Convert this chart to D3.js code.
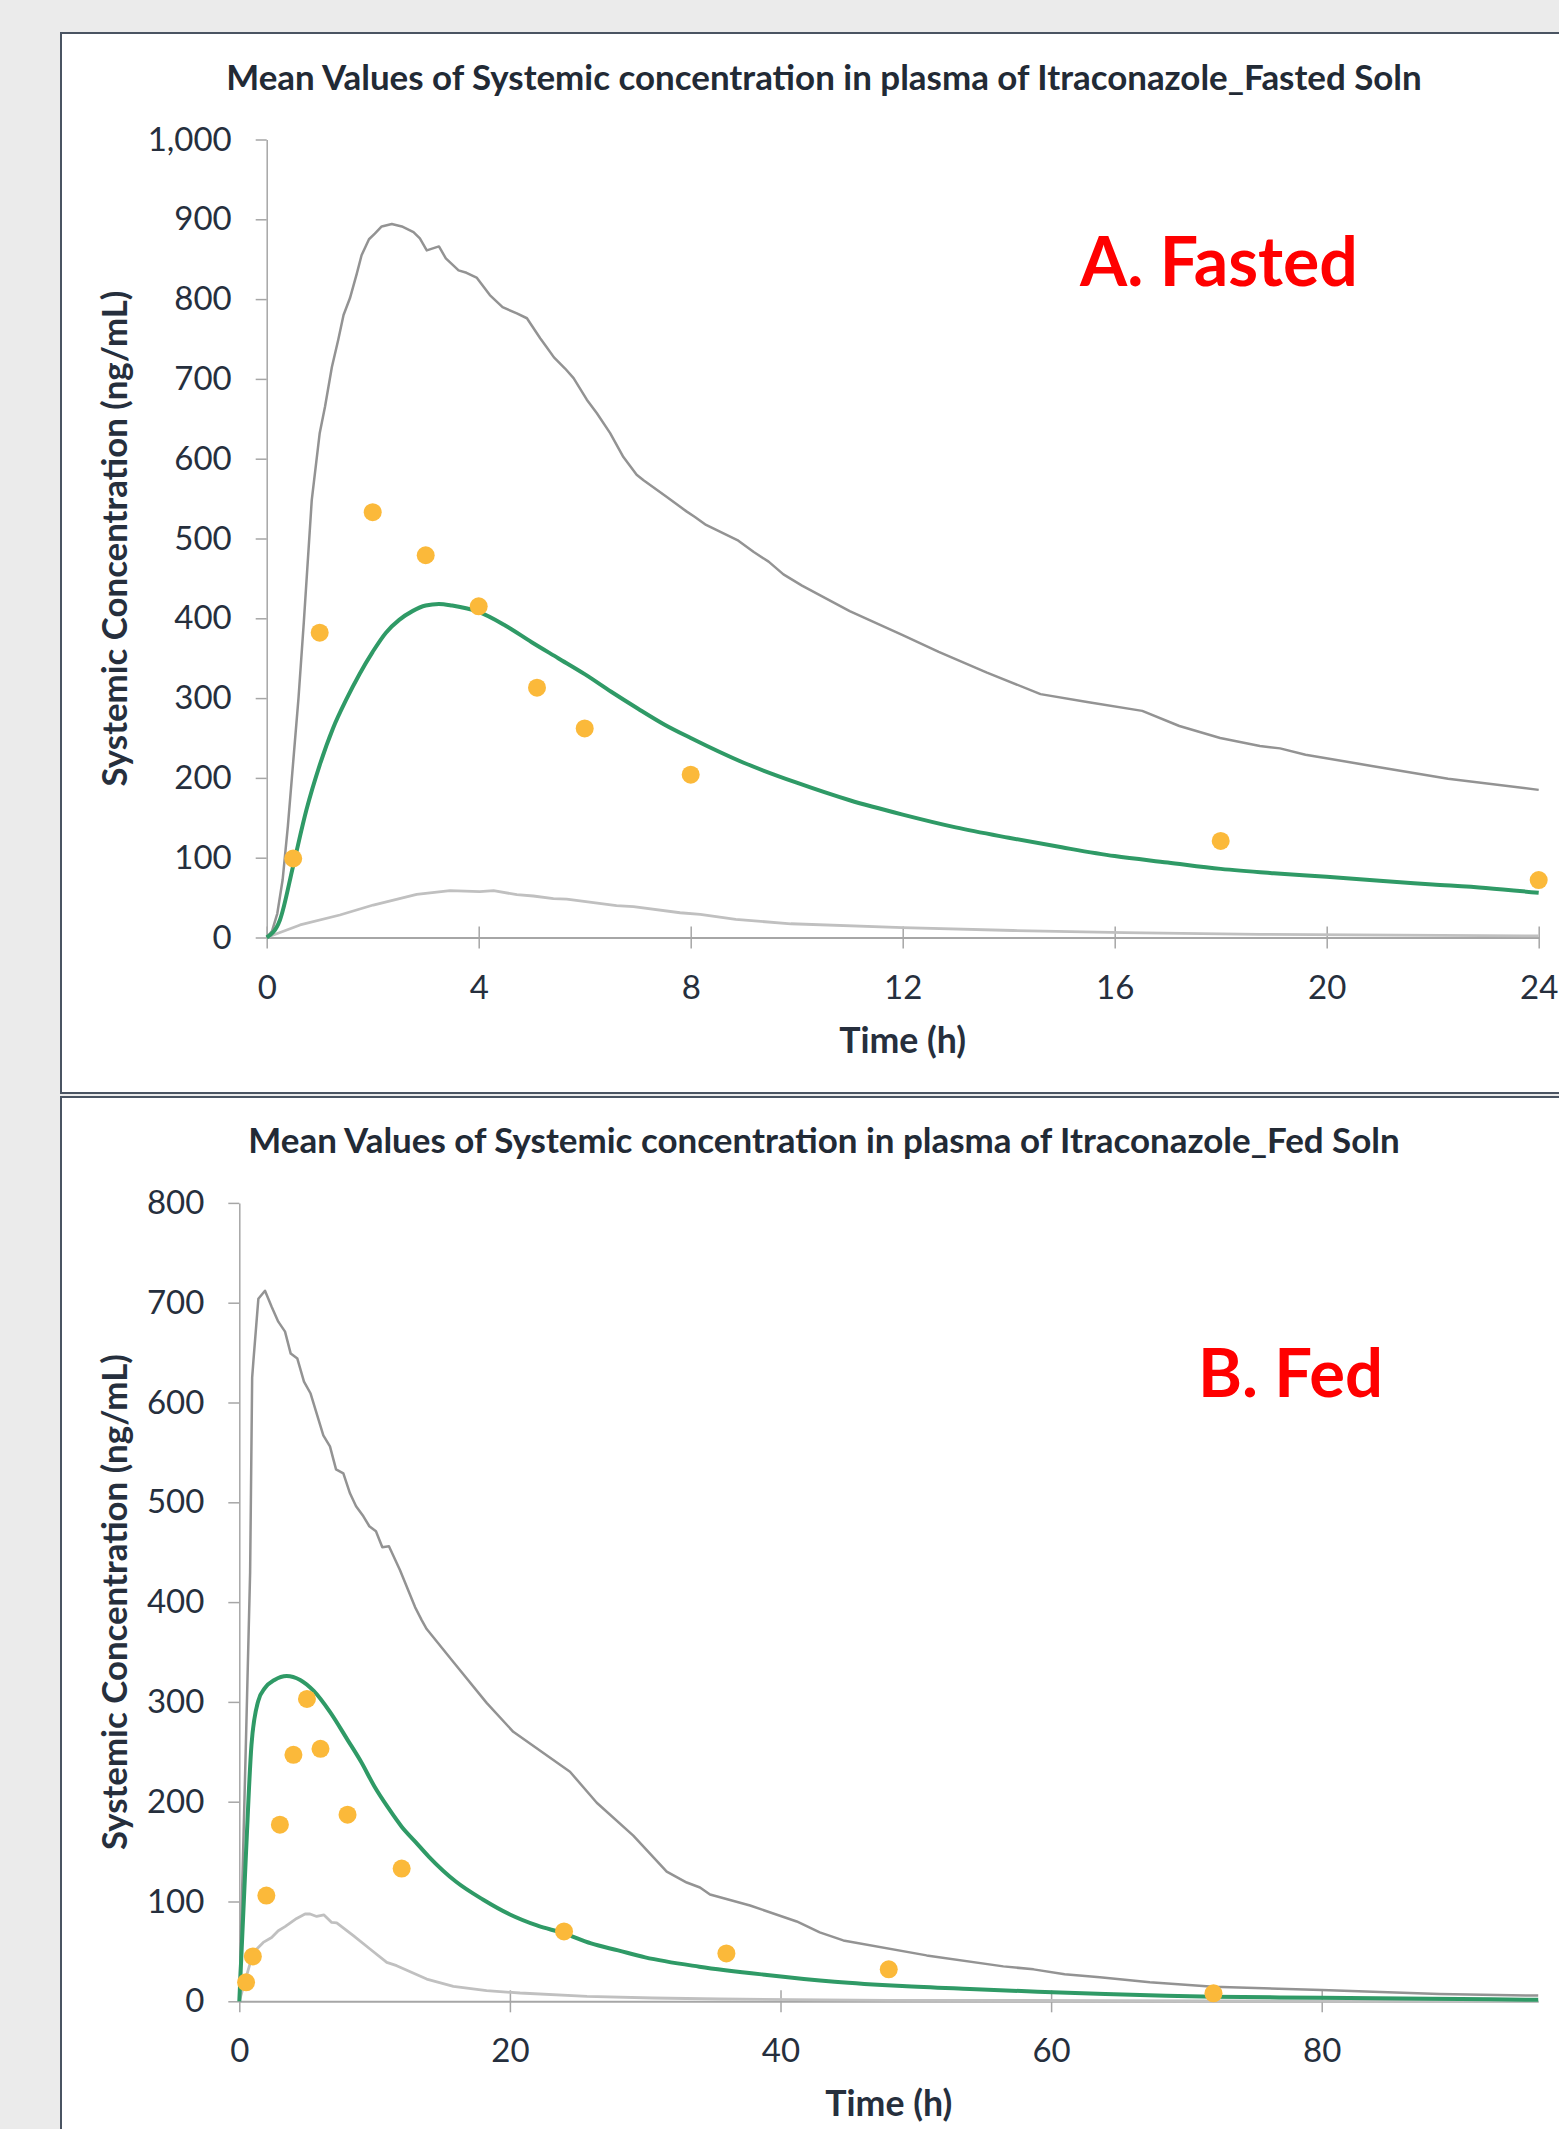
<!DOCTYPE html>
<html>
<head>
<meta charset="utf-8">
<script src="https://cdn.jsdelivr.net/npm/d3@7"></script>
<style>
  html, body { margin: 0; padding: 0; background: #ebebeb; }
  svg { display: block; }
</style>
</head>
<body>
<div id="chart"></div>
<script>
// ---- data: A. Fasted ----
const fastedTitle = "Mean Values of Systemic concentration in plasma of Itraconazole_Fasted Soln";
const fastedLabel = "A. Fasted";
const fastedXTicks = [0, 4, 8, 12, 16, 20, 24];
const fastedYTicks = [0, 100, 200, 300, 400, 500, 600, 700, 800, 900, 1000];

const fastedObsTime = [0.5, 1, 2, 3, 4, 5.1, 6, 8, 18, 24];
const fastedObsConc = [99, 382, 533, 479, 415, 313, 262, 204, 121, 72];

const fastedMeanTime = [0, 0.25, 0.5, 0.75, 1, 1.25, 1.5, 1.75, 2, 2.25, 2.5, 2.75, 3, 3.25, 3.5, 4, 4.5, 5, 5.5, 6, 6.5, 7, 7.5, 8, 9, 10, 11, 12, 13, 14, 15, 16, 17, 18, 19, 20, 21, 22, 23, 24];
const fastedMeanConc = [0, 22, 90, 160, 216, 262, 298, 330, 358, 382, 398, 409, 416, 418, 416, 408, 391, 370, 350, 330, 308, 287, 267, 250, 219, 194, 172, 154, 138, 125, 113, 102, 94, 86, 80.5, 76, 71, 66.5, 62, 56];

const fastedP95Time = [0, 0.1, 0.2, 0.3, 0.4, 0.5, 0.6, 0.7, 0.85, 1.0, 1.1, 1.23, 1.35, 1.45, 1.57, 1.7, 1.79, 1.93, 2.04, 2.17, 2.36, 2.55, 2.77, 2.89, 3.02, 3.25, 3.38, 3.62, 3.77, 3.96, 4.21, 4.45, 4.72, 4.91, 5.16, 5.28, 5.42, 5.63, 5.79, 6.04, 6.23, 6.48, 6.73, 6.98, 7.11, 7.55, 7.92, 8.08, 8.29, 8.88, 9.19, 9.47, 9.75, 10.1, 11, 12, 12.68, 13.59, 14.6, 15.48, 16.52, 17.22, 17.99, 18.74, 19.12, 19.6, 20.85, 22.29, 24];
const fastedP95Conc = [0, 8, 30, 72, 140, 220, 300, 395, 548, 632, 665, 715, 749, 780, 801, 832, 855, 875, 882, 891, 894, 891, 884, 876, 861, 866, 851, 836, 833, 827, 805, 790, 782, 776, 751, 740, 727, 713, 701, 674, 657, 632, 602, 580, 573, 552, 534, 527, 517, 498, 483, 471, 455, 441, 409, 379, 358, 332, 305, 295, 284, 265, 250, 240, 237, 229, 215, 199, 185];

const fastedP5Time = [0, 0.63, 1.38, 2.01, 2.83, 3.46, 4.02, 4.28, 4.72, 5.03, 5.41, 5.66, 6.6, 6.92, 7.8, 8.18, 8.85, 9.89, 12, 14.08, 16.18, 18.74, 24];
const fastedP5Conc = [0, 15.7, 28.2, 40.7, 54.1, 58.7, 57.4, 58.7, 53.7, 52, 48.6, 48.2, 39.9, 38.6, 31, 29, 22.7, 17.2, 12.5, 8.8, 6, 4, 2];

// ---- data: B. Fed ----
const fedTitle = "Mean Values of Systemic concentration in plasma of Itraconazole_Fed Soln";
const fedLabel = "B. Fed";
const fedXTicks = [0, 20, 40, 60, 80];
const fedYTicks = [0, 100, 200, 300, 400, 500, 600, 700, 800];

const fedObsTime = [0.5, 1, 2, 3, 4, 5, 6, 8, 12, 24, 36, 48, 72];
const fedObsConc = [19, 45, 106, 177, 247, 303, 253, 187, 133, 70, 48, 32, 8];

const fedMeanTime = [0, 0.5, 0.9, 1.4, 1.9, 2.6, 3.5, 4.5, 5.5, 6.7, 8, 9, 10, 11, 12, 13, 14, 16, 18, 20, 22, 24, 26, 28, 30, 34, 39, 44, 49, 54, 59, 64, 68.5, 72, 80, 88, 96];
const fedMeanConc = [0, 150, 257, 301, 314, 322, 326, 322, 311, 290, 262, 240, 215, 194, 175, 160, 145, 120, 102, 87, 76, 68, 58, 51, 44, 34.7, 26.4, 19.7, 15.3, 12.3, 9.6, 7.3, 5.6, 4.6, 3.6, 2.5, 1.5];

const fedP95Time = [0, 0.5, 0.8, 0.95, 1.05, 1.41, 1.9, 2.39, 2.88, 3.38, 3.8, 4.29, 4.78, 5.27, 6.21, 6.7, 7.15, 7.69, 8.18, 8.63, 9.17, 9.61, 10.1, 10.57, 11.06, 11.88, 12.99, 13.48, 13.85, 15.82, 18.28, 20.25, 24.44, 26.42, 29.12, 31.59, 33.07, 34.05, 34.79, 37.75, 41.2, 42.9, 44.64, 50.8, 56.47, 58.7, 61, 63.6, 67.3, 72, 80, 83.8, 88.7, 96];
const fedP95Conc = [0, 265, 430, 625, 643, 704, 712, 696, 681, 671, 649, 644, 621, 609, 567, 556, 533, 529, 509, 496, 486, 476, 471, 455, 456, 432, 395, 382, 373, 340, 299, 270, 230, 199, 166, 130, 119, 114, 107, 96, 80, 69, 61, 46, 35, 32, 27, 24, 19, 14.6, 11.3, 9.6, 7.3, 5.7];

const fedP5Time = [0, 0.67, 1.04, 1.77, 2.39, 2.88, 3.38, 4.24, 4.86, 5.23, 5.72, 6.26, 6.83, 7.2, 8.43, 9.66, 10.9, 11.63, 13.85, 15.82, 18.28, 20.75, 25.7, 30.6, 35.5, 48, 72, 96];
const fedP5Conc = [0, 32, 49, 59, 64, 70.7, 74.8, 83, 87.5, 87.5, 85, 86.5, 79, 78.5, 65.7, 52.4, 39, 35.7, 22.3, 15, 10.7, 8.3, 5, 3.3, 2.3, 1, 0.5, 0.3];

// ---- drawing ----
const W = 1559, H = 2129;
const textColor = "#262f3d";
const axisColor = "#a6a6a6";
const font = "Lato, 'Open Sans', sans-serif";

const svg = d3.select("#chart").append("svg")
  .attr("width", W)
  .attr("height", H);

svg.append("rect").attr("width", W).attr("height", H).attr("fill", "#ebebeb");

const zip = (t, c) => t.map((v, i) => ({ t: v, c: c[i] }));

// set font size so that the text spans the wanted width
function fitText(sel, width) {
  const len = sel.node().getComputedTextLength();
  const size = parseFloat(sel.attr("font-size"));
  sel.attr("font-size", size * width / len);
}

function drawPanel(p) {
  svg.append("rect")
    .attr("x", 61).attr("y", p.top)
    .attr("width", 1600).attr("height", p.height)
    .attr("fill", "#fff")
    .attr("stroke", "#4a5462")
    .attr("stroke-width", 2);

  const g = svg.append("g");
  const x = d3.scaleLinear().domain(p.xDomain).range(p.xRange);
  const y = d3.scaleLinear().domain(p.yDomain).range(p.yRange);

  // title
  const title = g.append("text")
    .attr("x", 824).attr("y", p.titleY)
    .attr("text-anchor", "middle")
    .attr("font-family", font).attr("font-weight", "bold")
    .attr("font-size", 30).attr("fill", "#222a35")
    .text(p.title);
  fitText(title, p.titleWidth);

  // y axis
  const yAxis = g.append("g")
    .attr("transform", `translate(${p.xRange[0]},0)`)
    .call(d3.axisLeft(y).tickValues(p.yTicks).tickSize(11).tickSizeOuter(0).tickPadding(24).tickFormat(d3.format(",")));
  yAxis.select(".domain").attr("stroke", axisColor).attr("stroke-width", 1.5);
  yAxis.selectAll(".tick line").attr("stroke", axisColor).attr("stroke-width", 1.5);
  yAxis.selectAll(".tick text")
    .attr("font-family", font).attr("font-size", 33).attr("fill", textColor);

  // x axis with crossing ticks
  const xAxis = g.append("g")
    .attr("transform", `translate(0,${p.yRange[0]})`)
    .call(d3.axisBottom(x).tickValues(p.xTicks).tickSizeOuter(0));
  xAxis.select(".domain").attr("stroke", axisColor).attr("stroke-width", 2);
  xAxis.selectAll(".tick line").attr("stroke", axisColor).attr("stroke-width", 1.5)
    .attr("y1", -11).attr("y2", 11);
  xAxis.selectAll(".tick text")
    .attr("font-family", font).attr("font-size", 33).attr("fill", textColor)
    .attr("y", 61).attr("dy", 0);

  // axis titles
  const xt = g.append("text")
    .attr("x", (p.xRange[0] + p.xRange[1]) / 2).attr("y", p.xTitleY)
    .attr("text-anchor", "middle")
    .attr("font-family", font).attr("font-weight", "bold")
    .attr("font-size", 30).attr("fill", textColor)
    .text("Time (h)");
  fitText(xt, 127);

  const yt = g.append("text")
    .attr("transform", `translate(127,${(p.yRange[0] + p.yRange[1]) / 2}) rotate(-90)`)
    .attr("text-anchor", "middle")
    .attr("font-family", font).attr("font-weight", "bold")
    .attr("font-size", 30).attr("fill", textColor)
    .text("Systemic Concentration (ng/mL)");
  fitText(yt, 496);

  // panel label
  const lbl = g.append("text")
    .attr("x", p.labelX).attr("y", p.labelY)
    .attr("font-family", font).attr("font-weight", "bold")
    .attr("font-size", 68).attr("fill", "#ff0000")
    .text(p.label);
  fitText(lbl, p.labelWidth);

  const line = d3.line().x(d => x(d.t)).y(d => y(d.c));
  const smooth = d3.line().x(d => x(d.t)).y(d => y(d.c)).curve(d3.curveMonotoneX);

  g.append("path").datum(zip(p.p5Time, p.p5Conc))
    .attr("d", line).attr("fill", "none")
    .attr("stroke", "#c0c0c0").attr("stroke-width", 2.8).attr("stroke-linejoin", "round");

  g.append("path").datum(zip(p.p95Time, p.p95Conc))
    .attr("d", line).attr("fill", "none")
    .attr("stroke", "#939393").attr("stroke-width", 2.5).attr("stroke-linejoin", "round");

  g.append("path").datum(zip(p.meanTime, p.meanConc))
    .attr("d", smooth).attr("fill", "none")
    .attr("stroke", "#2f9a66").attr("stroke-width", 4).attr("stroke-linejoin", "round");

  g.selectAll("circle.obs").data(zip(p.obsTime, p.obsConc)).enter()
    .append("circle").attr("class", "obs")
    .attr("cx", d => x(d.t)).attr("cy", d => y(d.c))
    .attr("r", 9).attr("fill", "#fbb93a");
}

drawPanel({
  top: 33, height: 1060,
  title: fastedTitle, titleY: 90, titleWidth: 1196,
  label: fastedLabel, labelX: 1080, labelY: 286, labelWidth: 278,
  xDomain: [0, 24], xRange: [266.7, 1538.7],
  yDomain: [0, 1000], yRange: [937.5, 139.5],
  xTicks: fastedXTicks, yTicks: fastedYTicks,
  xTitleY: 1053,
  obsTime: fastedObsTime, obsConc: fastedObsConc,
  meanTime: fastedMeanTime, meanConc: fastedMeanConc,
  p95Time: fastedP95Time, p95Conc: fastedP95Conc,
  p5Time: fastedP5Time, p5Conc: fastedP5Conc
});

drawPanel({
  top: 1097, height: 1100,
  title: fedTitle, titleY: 1153, titleWidth: 1152,
  label: fedLabel, labelX: 1198, labelY: 1397, labelWidth: 185,
  xDomain: [0, 96], xRange: [239.3, 1538.2],
  yDomain: [0, 800], yRange: [2001.3, 1202.9],
  xTicks: fedXTicks, yTicks: fedYTicks,
  xTitleY: 2116,
  obsTime: fedObsTime, obsConc: fedObsConc,
  meanTime: fedMeanTime, meanConc: fedMeanConc,
  p95Time: fedP95Time, p95Conc: fedP95Conc,
  p5Time: fedP5Time, p5Conc: fedP5Conc
});
</script>
</body>
</html>
